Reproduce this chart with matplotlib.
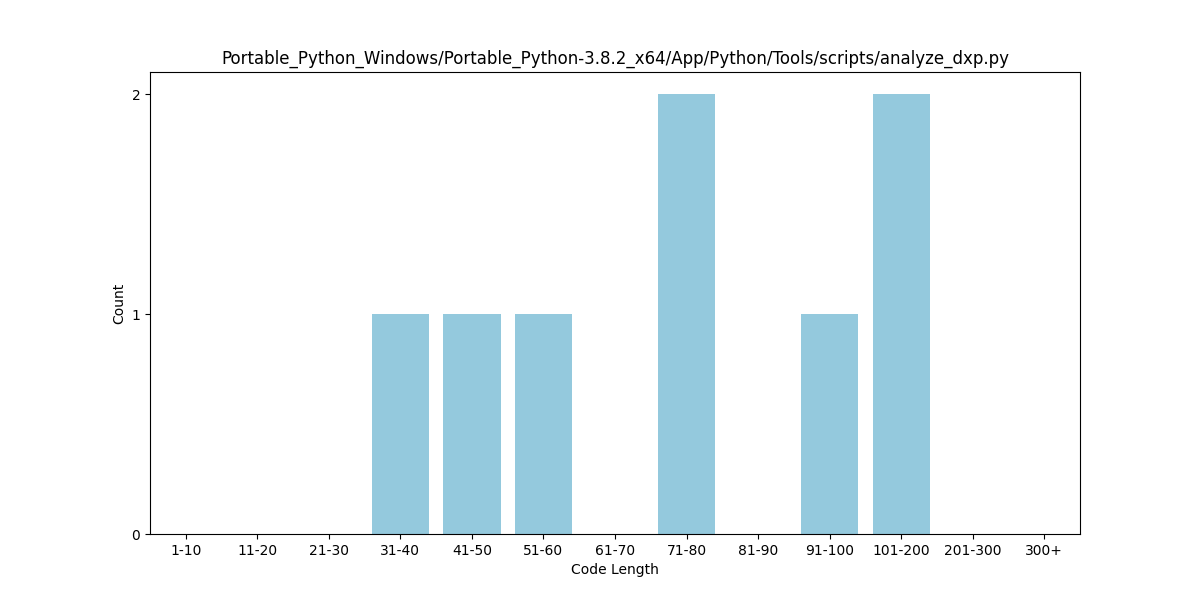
import matplotlib
matplotlib.use('Agg')
import matplotlib.pyplot as plt

bins = ['1-10', '11-20', '21-30', '31-40', '41-50', '51-60', '61-70',
        '71-80', '81-90', '91-100', '101-200', '201-300', '300+']
counts = [0, 0, 0, 1, 1, 1, 0, 2, 0, 1, 2, 0, 0]

fig, ax = plt.subplots(figsize=(12, 6), dpi=100)
ax.bar(bins, counts, width=0.8, color='#94c9dd')
ax.set_xlim(-0.5, len(bins) - 0.5)
ax.set_yticks([0, 1, 2])
ax.set_xlabel('Code Length')
ax.set_ylabel('Count')
ax.set_title('Portable_Python_Windows/Portable_Python-3.8.2_x64/App/Python/Tools/scripts/analyze_dxp.py')
fig.savefig('out.png')
